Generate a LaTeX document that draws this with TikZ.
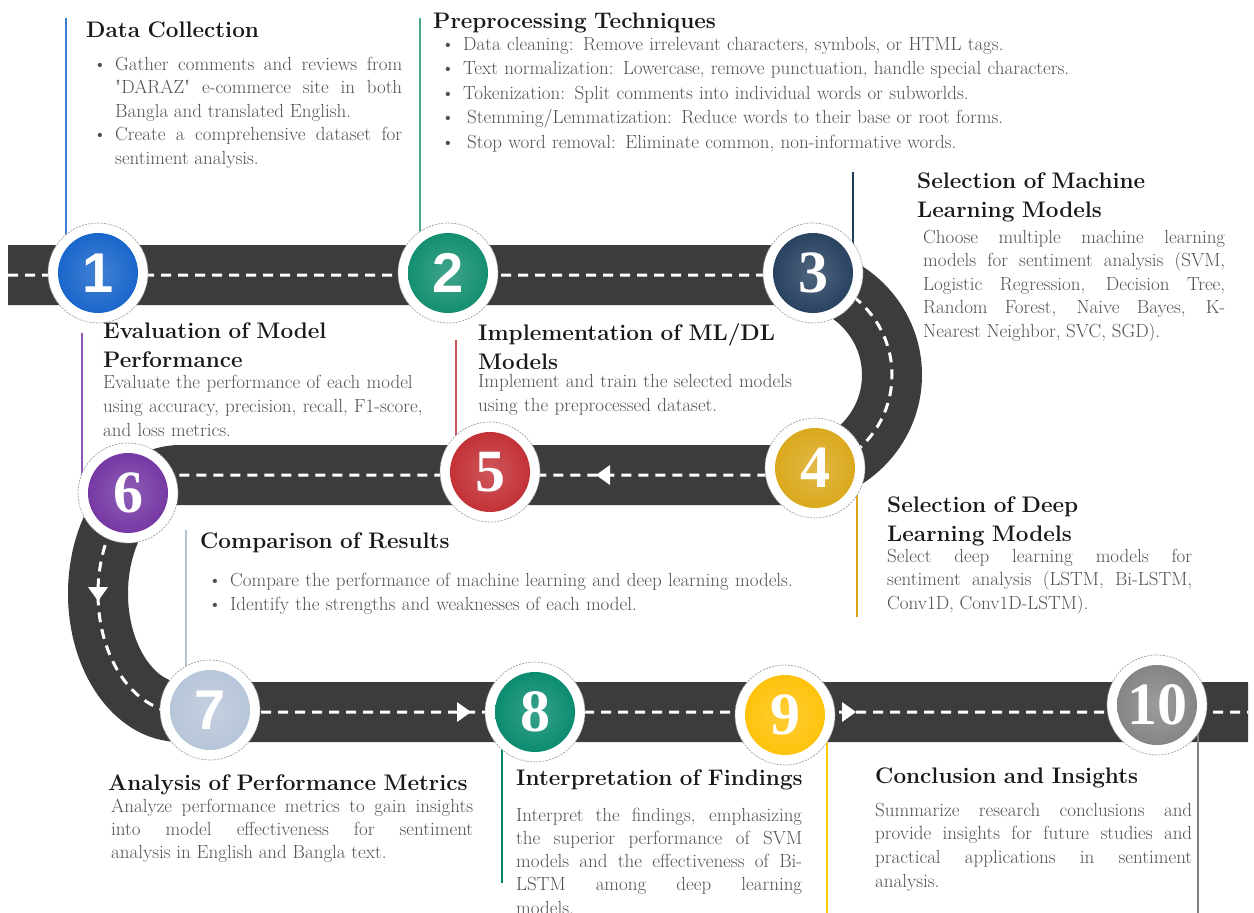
\documentclass[tikz,border=0pt]{standalone}
\usepackage{fontspec}
\usepackage{xcolor}
\usetikzlibrary{positioning,backgrounds}

\newfontfamily\numsans{Liberation Sans}
\newfontfamily\numserif{Liberation Serif}

\definecolor{roadgray}{HTML}{3C3C3C}
\definecolor{textgray}{HTML}{505050}
\definecolor{cOne}{HTML}{0F5FC8}
\definecolor{cTwo}{HTML}{0A8A6A}
\definecolor{cThree}{HTML}{1F3A5A}
\definecolor{cFour}{HTML}{D9A514}
\definecolor{cFive}{HTML}{C0282D}
\definecolor{cSix}{HTML}{7030A0}
\definecolor{cSeven}{HTML}{B4C3D7}
\definecolor{cEight}{HTML}{00876B}
\definecolor{cNine}{HTML}{FFC000}
\definecolor{cTen}{HTML}{808080}

\tolerance=10000
\hbadness=10000
\newcommand{\bitem}[1]{\noindent\hangindent=22pt\hangafter=1\makebox[22pt][l]{\textbullet}#1\par}

\begin{document}
\begin{tikzpicture}[x=1pt, y=1pt, node distance=350pt,
    road/.style={draw=roadgray, line width=60pt, solid},
    lane/.style={draw=white, line width=3pt, dash pattern=on 10pt off 7pt, preaction={road}},
    lead/.style={line width=1.2pt},
    stop/.style={circle, minimum size=100pt, inner sep=0pt, fill=white, draw=gray!75,
        line width=0.7pt, dash pattern=on 2pt off 1.2pt, text=white,
        font=\numsans\bfseries\fontsize{56}{56}\selectfont,
        path picture={\shade[inner color=#1!78!white, outer color=#1]
            (path picture bounding box.center) circle[radius=40pt];}},
    serifnum/.style={font=\numserif\bfseries\fontsize{60}{60}\selectfont},
    head/.style={anchor=base west, inner sep=0pt, text width=430pt, align=left,
        text=black!90, font=\fontsize{22.5}{29.5}\selectfont\bfseries},
    note/.style={anchor=base west, inner sep=0pt, text width=#1, align=justify,
        text=textgray, font=\fontsize{19}{23.5}\selectfont},
]
\useasboundingbox (0,0) rectangle (1254,-913);

% stops along the road
\node [stop=cOne](s1) at (98,-273) {1};
\node [stop=cTwo](s2) [right of = s1] {2};
\node [stop=cThree, serifnum](s3) [right of = s2, xshift=15] {3};
\node [stop=cFour, serifnum](s4) at (815,-468) {4};
\node [stop=cFive, serifnum](s5) [left of = s4, xshift=25, yshift=-4] {5};
\node [stop=cSix, serifnum](s6) at (128,-493) {6};
\node [stop=cSeven](s7) at (210,-710) {7};
\node [stop=cEight, serifnum](s8) [right of = s7, xshift=-25, yshift=-2] {8};
\node [stop=cNine, serifnum](s9) [right of = s8, xshift=-100, yshift=-3] {9};
\node [stop=cTen, serifnum](s10) [right of = s9, xshift=22, yshift=10] {10};

% leader line ends
\coordinate (l1) at (66,-18);
\coordinate (l2) at (420,-18);
\coordinate (l3) at (853,-172);
\coordinate (l4) at (857,-617);
\coordinate (l5) at (456,-340);
\coordinate (l6) at (82,-333);
\coordinate (l7) at (186,-530);
\coordinate (l8) at (502,-883);
\coordinate (l9) at (827,-913);
\coordinate (l10) at (1198,-913);

\begin{pgfonlayer}{background}
    \draw[lane] (8,-275) -- (790,-275)
        arc[start angle=90, end angle=-90, x radius=102pt, y radius=100pt]
        -- (180,-475)
        arc[start angle=90, end angle=270, x radius=82pt, y radius=118.5pt]
        -- (1248,-712);

    \fill[white, shift={(603,-475)}, rotate=180] (7,0) -- (-7,10) -- (-7,-10) -- cycle;
    \fill[white, shift={(98,-594)}, rotate=-90] (7,0) -- (-7,10) -- (-7,-10) -- cycle;
    \fill[white, shift={(464,-712)}] (7,0) -- (-7,10) -- (-7,-10) -- cycle;
    \fill[white, shift={(849,-712)}] (7,0) -- (-7,10) -- (-7,-10) -- cycle;

    \path[lead]
        (l1) edge[cOne!80!white] (l1 |- s1)
        (l2) edge[cTwo!75!white] (l2 |- s2)
        (l3) edge[cThree] (l3 |- s3)
        (l4) edge[cFour] (l4 |- s4)
        (l5) edge[cFive!80!white] (l5 |- s5)
        (l6) edge[cSix!80!white] (l6 |- s6)
        (l7) edge[cSeven] (l7 |- s7)
        (l8) edge[cEight] (l8 |- s8)
        (l9) edge[cNine!80!yellow] (l9 |- s9)
        (l10) edge[cTen] (l10 |- s10)
    ;
\end{pgfonlayer}

% headings
\node [head](h1) at (86,-37) {Data Collection};
\node [head](h2) at (433,-28) {Preprocessing Techniques};
\node [head](h3) at (917,-188) {Selection of Machine\\Learning Models};
\node [head](h4) at (887,-512) {Selection of Deep\\Learning Models};
\node [head](h5) at (478,-340) {Implementation of ML/DL\\Models};
\node [head](h6) at (103,-338) {Evaluation of Model\\Performance};
\node [head](h7) at (200,-548) {Comparison of Results};
\node [head](h8) at (108,-790) {Analysis of Performance Metrics};
\node [head](h9) at (516,-785) {Interpretation of Findings};
\node [head](h10) at (875,-783) {Conclusion and Insights};

% descriptions
\node [note=309pt](b1) at (93,-70) {%
    \bitem{Gather comments and reviews from\linebreak \textquotedbl DARAZ\textquotedbl{} e-commerce site in both\linebreak Bangla and translated English.}%
    \bitem{Create a comprehensive dataset for\linebreak sentiment analysis.}};
\node [note=720pt, align=left, font=\fontsize{19}{24.5}\selectfont](b2) at (441,-50) {%
    \bitem{Data cleaning: Remove irrelevant characters, symbols, or HTML tags.}%
    \bitem{Text normalization: Lowercase, remove punctuation, handle special characters.}%
    \bitem{Tokenization: Split comments into individual words or subworlds.}%
    \bitem{\hspace{4pt}Stemming/Lemmatization: Reduce words to their base or root forms.}%
    \bitem{\hspace{4pt}Stop word removal: Eliminate common, non-informative words.}};
\node [note=302pt](b3) at (923,-243) {Choose multiple machine learning\linebreak models for sentiment analysis (SVM,\linebreak Logistic Regression, Decision Tree,\linebreak Random Forest, Naive Bayes, K-\linebreak Nearest Neighbor, SVC, SGD).};
\node [note=305pt](b4) at (887,-562) {Select deep learning models for\linebreak sentiment analysis (LSTM, Bi-LSTM,\linebreak Conv1D, Conv1D-LSTM).};
\node [note=340pt, align=left, font=\fontsize{19}{24}\selectfont](b5) at (478,-387) {Implement and train the selected models\\using the preprocessed dataset.};
\node [note=350pt, align=left, font=\fontsize{19}{24}\selectfont](b6) at (103,-388) {Evaluate the performance of each model\\using accuracy, precision, recall, F1-score,\\and loss metrics.};
\node [note=900pt, align=left, font=\fontsize{19}{24}\selectfont](b7) at (208,-586) {%
    \bitem{Compare the performance of machine learning and deep learning models.}%
    \bitem{Identify the strengths and weaknesses of each model.}};
\node [note=362pt, font=\fontsize{19}{23}\selectfont](b8) at (111,-812) {Analyze performance metrics to gain insights\linebreak into model effectiveness for sentiment\linebreak analysis in English and Bangla text.};
\node [note=286pt, font=\fontsize{19}{23.3}\selectfont](b9) at (516,-821) {Interpret the findings, emphasizing\linebreak the superior performance of SVM\linebreak models and the effectiveness of Bi-\linebreak LSTM among deep learning\linebreak models.};
\node [note=317pt, font=\fontsize{19}{23.7}\selectfont](b10) at (875,-816) {Summarize research conclusions and\linebreak provide insights for future studies and\linebreak practical applications in sentiment\linebreak analysis.};

\end{tikzpicture}
\end{document}
